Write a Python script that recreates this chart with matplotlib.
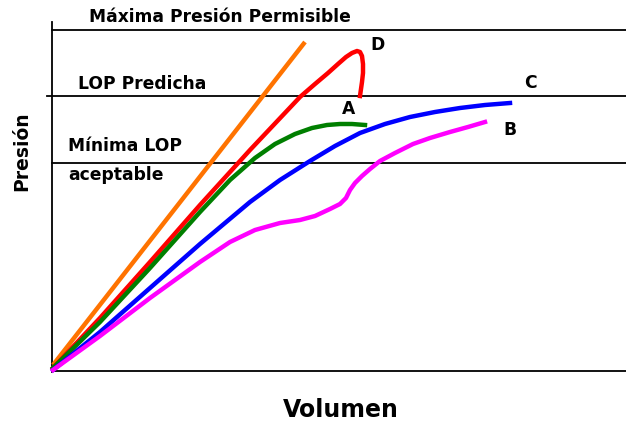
import matplotlib.pyplot as plt

# Curves (x = volumen, y = presión, in picture units; y grows downward)
orange_x = [53, 305]
orange_y = [365, 42]

red_x = [53, 100, 150, 200, 250, 300, 315, 328, 338, 346, 352, 357, 360, 362, 363, 363, 362, 361, 360]
red_y = [368, 318, 262, 205, 150, 97, 84, 73, 64, 57, 53, 51, 52, 56, 64, 73, 82, 89, 96]

green_x = [53, 100, 150, 200, 230, 255, 275, 295, 312, 327, 340, 352, 365]
green_y = [368, 322, 268, 212, 180, 158, 144, 134, 128, 125, 124, 124, 125]

blue_x = [53, 100, 150, 200, 250, 280, 310, 335, 360, 385, 410, 435, 460, 485, 510]
blue_y = [370, 332, 288, 244, 202, 180, 161, 146, 133, 124, 117, 112, 108, 105, 103]

magenta_x = [53, 100, 150, 200, 230, 255, 280, 300, 315, 330, 340, 346, 350, 355, 362, 370, 380, 395, 413, 430, 450, 468, 485]
magenta_y = [370, 336, 298, 262, 242, 230, 223, 220, 216, 209, 204, 198, 190, 183, 176, 169, 161, 153, 144, 138, 132, 127, 122]

# reference lines: (y, start x)
h_lines = [(30, 52), (96, 47), (163, 52), (371, 52)]

fig = plt.figure(figsize=(6.26, 4.23), dpi=100)
ax = fig.add_axes([0, 0, 1, 1])
ax.set_xlim(0, 626)
ax.set_ylim(423, 0)
ax.axis("off")

for y, x0 in h_lines:
    ax.plot([x0, 626], [y, y], color="black", lw=1.3)
ax.plot([52, 52], [22, 372], color="black", lw=1.3)

lw = 3.2
ax.plot(orange_x, orange_y, color="#ff7300", lw=lw, solid_capstyle="butt")
ax.plot(red_x, red_y, color="#ff0000", lw=lw, solid_joinstyle="round")
ax.plot(green_x, green_y, color="#007f00", lw=lw, solid_joinstyle="round")
ax.plot(blue_x, blue_y, color="#0000ff", lw=lw, solid_joinstyle="round")
ax.plot(magenta_x, magenta_y, color="#ff00ff", lw=lw, solid_joinstyle="round")

# texts
kw = dict(fontfamily="DejaVu Sans", fontweight="bold", color="black")
fs = 12.3
ax.text(89, 17, "Máxima Presión Permisible", fontsize=fs, va="center", ha="left", **kw)
ax.text(78, 84, "LOP Predicha", fontsize=fs, va="center", ha="left", **kw)
ax.text(68, 146, "Mínima LOP", fontsize=fs, va="center", ha="left", **kw)
ax.text(68, 175, "aceptable", fontsize=fs, va="center", ha="left", **kw)

ax.text(378, 45, "D", fontsize=fs, va="center", ha="center", **kw)
ax.text(530, 83, "C", fontsize=fs, va="center", ha="center", **kw)
ax.text(349, 109, "A", fontsize=fs, va="center", ha="center", **kw)
ax.text(510, 130, "B", fontsize=fs, va="center", ha="center", **kw)

ax.text(22, 151, "Presión", fontsize=13.5, rotation=90, va="center", ha="center", **kw)
ax.text(341, 410, "Volumen", fontsize=17, va="center", ha="center", **kw)

fig.savefig("out.png", dpi=100)
